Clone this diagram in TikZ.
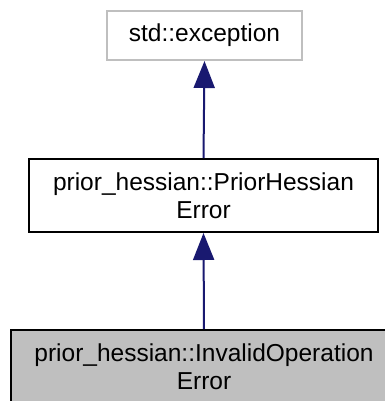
\documentclass[tikz,border=0pt]{standalone}
\usepackage{fontspec}
\setmainfont{Liberation Sans}
\usetikzlibrary{arrows.meta}
\definecolor{edgeblue}{HTML}{191970}
\definecolor{boxgray}{HTML}{BFBFBF}
\tikzset{
  cls/.style={draw, rectangle, line width=2bp, align=center, inner sep=0pt,
    font=\fontsize{24.5bp}{28bp}\selectfont},
  edge/.style={draw=edgeblue, line width=2bp,
    -{Triangle[length=27bp,width=21bp,fill=edgeblue]}}
}
\begin{document}
\begin{tikzpicture}[x=1bp,y=-1bp]
\useasboundingbox (0,0) rectangle (385,401);
\clip (0,0) rectangle (385,401);
\node[cls, draw=boxgray, minimum width=195bp, minimum height=49bp] (top) at (204.5,35.5) {std::exception};
\node[cls, draw=black, minimum width=349bp, minimum height=73bp] (mid) at (203.5,195.5) {prior\_hessian::PriorHessian\\Error};
\node[cls, draw=black, fill=boxgray, minimum width=386bp, minimum height=73bp] (bot) at (204,366.5) {prior\_hessian::InvalidOperation\\Error};
\draw[edge] (mid.north) -- (top.south);
\draw[edge] (bot.north) -- (mid.south);
\end{tikzpicture}
\end{document}
